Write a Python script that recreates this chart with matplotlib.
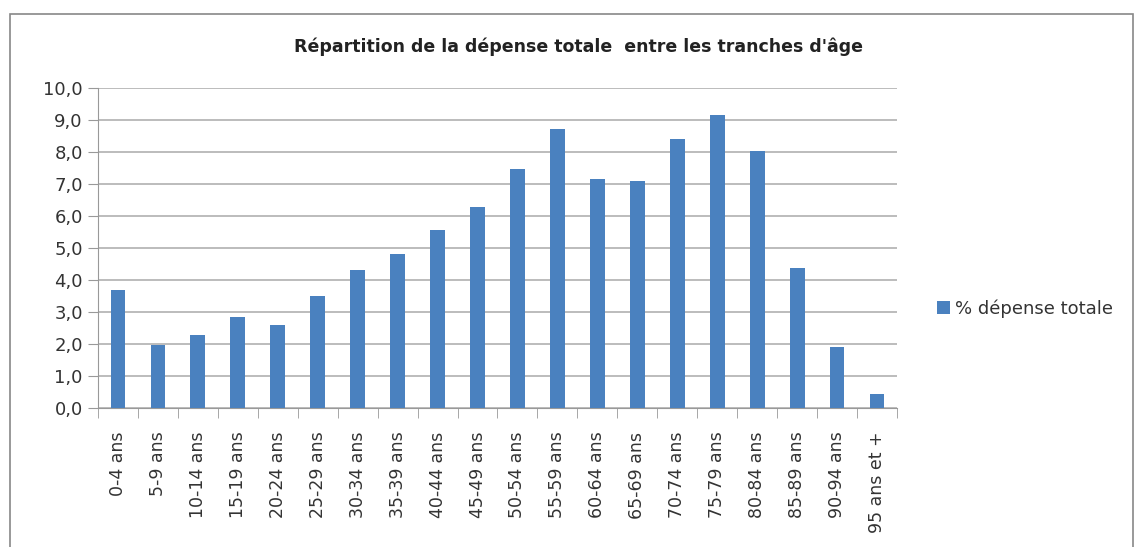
import matplotlib.pyplot as plt
from matplotlib.patches import Rectangle
import numpy as np

# Données
tranches = ['0-4 ans', '5-9 ans', '10-14 ans', '15-19 ans', '20-24 ans', '25-29 ans',
            '30-34 ans', '35-39 ans', '40-44 ans', '45-49 ans', '50-54 ans', '55-59 ans',
            '60-64 ans', '65-69 ans', '70-74 ans', '75-79 ans', '80-84 ans', '85-89 ans',
            '90-94 ans', '95 ans et +']
depense = [3.68, 1.96, 2.28, 2.84, 2.59, 3.49, 4.31, 4.80, 5.57, 6.26, 7.47, 8.70,
           7.16, 7.09, 8.40, 9.14, 8.02, 4.38, 1.92, 0.45]

plt.rcParams['font.family'] = ['DejaVu Sans']

fig = plt.figure(figsize=(11.34, 5.47), dpi=100)
ax = fig.add_axes([0.0864, 0.254, 0.7046, 0.586])

x = np.arange(len(tranches))
ax.bar(x, depense, width=0.37, color='#4A81BF', label='% dépense totale', zorder=3)

ax.set_xlim(-0.5, len(tranches) - 0.5)
ax.set_ylim(0, 10)
ax.set_yticks(np.arange(0, 11, 1))
ax.set_yticklabels([f'{v:.1f}'.replace('.', ',') for v in np.arange(0, 11, 1)],
                   fontsize=13, color='#333333')
ax.set_xticks(x)
ax.set_xticklabels(tranches, rotation=90, fontsize=12.5, color='#333333')
ax.set_xticks(np.arange(-0.5, len(tranches), 1), minor=True)
ax.tick_params(axis='x', which='major', length=0, pad=17)
ax.tick_params(axis='x', which='minor', length=7, color='#999999', direction='out')
ax.tick_params(axis='y', length=7, color='#999999', direction='out', pad=4)

ax.grid(axis='y', color='#B0B0B0', linewidth=1.2, zorder=0)
for side in ['top', 'right']:
    ax.spines[side].set_visible(False)
ax.spines['left'].set_color('#999999')
ax.spines['bottom'].set_color('#999999')

fig.text(0.51, 0.915, "Répartition de la dépense totale  entre les tranches d'âge",
         ha='center', va='center', fontsize=12.5, fontweight='bold', color='#222222')

ax.legend(loc='center left', bbox_to_anchor=(1.03, 0.31), frameon=False,
          fontsize=13, handlelength=0.7, handleheight=0.7, handletextpad=0.3,
          labelcolor='#333333')

fig.patches.append(Rectangle((0.009, -0.01), 0.99, 0.985, transform=fig.transFigure,
                             fill=False, edgecolor='#888888', linewidth=1.2))

fig.savefig('out.png', dpi=100)
